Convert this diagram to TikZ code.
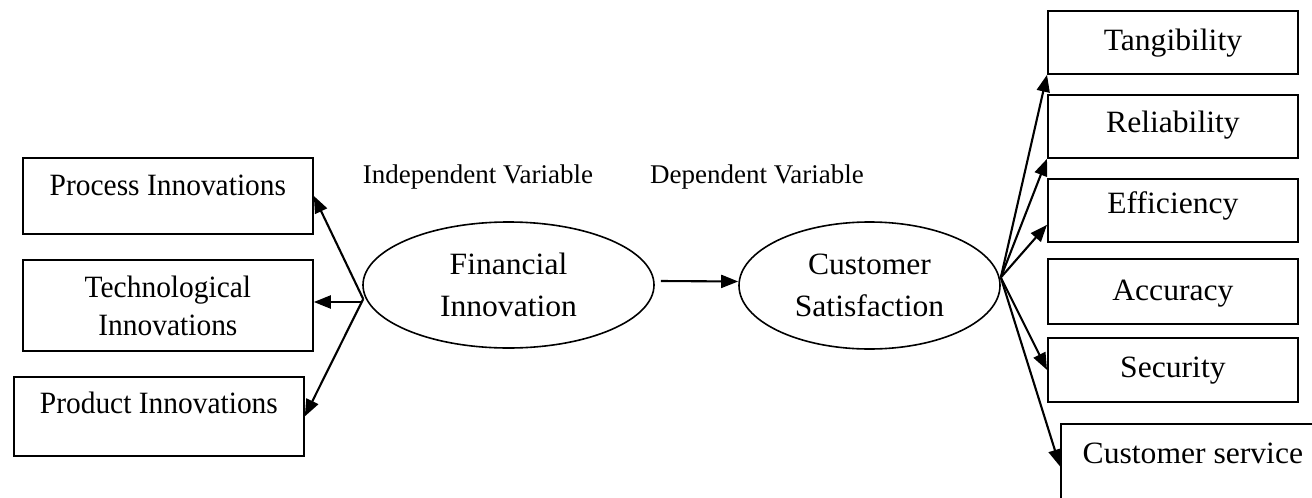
\documentclass[tikz,border=0pt]{standalone}
\usepackage{fontspec}
\setmainfont{Liberation Serif}
\newfontfamily\leftfont[FakeStretch=0.95]{Liberation Serif}
\newfontfamily\rightfont[FakeStretch=1.02]{Liberation Serif}
\usetikzlibrary{arrows.meta,shapes.geometric,calc}
\begin{document}
\begin{tikzpicture}[x=1pt,y=-1pt,
  box/.style={draw, line width=1.8pt, inner sep=0pt},
  lbox/.style={box, font=\leftfont\fontsize{31}{38}\selectfont},
  rbox/.style={box, minimum width=250pt, font=\rightfont\fontsize{31}{38}\selectfont},
  lab/.style={anchor=base, inner sep=0pt, font=\fontsize{27}{38}\selectfont},
  ell/.style={draw, ellipse, line width=1.6pt, inner sep=0pt, align=center, font=\rightfont\fontsize{31}{42}\selectfont},
  arr/.style={line width=2.1pt, -{Triangle[length=17pt,width=13pt]}}]
\clip (0,0) rectangle (1312,498);
\fill[white] (0,0) rectangle (1312,498);
% left boxes
\node[lbox, minimum width=290pt, text height=38pt, text depth=38pt, anchor=north west] (proc) at (22,157) {Process Innovations};
\node[lbox, minimum width=290pt, minimum height=91pt, align=center, anchor=north west] (tech) at (22,259) {Technological\\Innovations};
\node[lbox, minimum width=290pt, text height=37pt, text depth=42pt, anchor=north west] (prod) at (13,376) {Product Innovations};
% right boxes
\node[rbox, text height=40pt, text depth=23pt, anchor=north west] (tang) at (1047,10) {Tangibility};
\node[rbox, text height=38pt, text depth=25pt, anchor=north west] (rel) at (1047,94) {Reliability};
\node[rbox, text height=35pt, text depth=28pt, anchor=north west] (eff) at (1047,178) {Efficiency};
\node[rbox, text height=42pt, text depth=23pt, anchor=north west] (acc) at (1047,258) {Accuracy};
\node[rbox, text height=40pt, text depth=24pt, anchor=north west] (sec) at (1047,337) {Security};
\node[rbox, minimum width=264pt, text height=40pt, text depth=45pt, anchor=north west] (cs) at (1060,423) {Customer service};
% ellipses
\node[ell, minimum width=291pt, minimum height=126pt] (fi) at (508.5,285) {Financial\\Innovation};
\node[ell, minimum width=261pt, minimum height=127pt] (cust) at (869.5,285.5) {Customer\\Satisfaction};
% labels
\node[lab] (iv) at (478,183) {Independent Variable};
\node[lab] (dv) at (757,183) {Dependent Variable};
% connectors
\coordinate (fo) at ($(fi.west)+(1,14)$);
\draw[arr] (fo) -- (proc.east);
\draw[arr] ($(fi.west)+(-1,17)$) -- (tech.east |- {$(fi.west)+(0,17)$});
\draw[arr] (fo) -- (prod.east);
\draw[arr] ($(fi.east)+(6,-4)$) -- ($(cust.west)+(0,-4)$);
\coordinate (co) at ($(cust.east)+(0,-8)$);
\draw[arr] (co) -- (tang.south west);
\draw[arr] (co) -- (rel.south west);
\draw[arr] (co) -- ($(eff.south west)+(0,-18)$);
\draw[arr] (co) -- (sec.west);
\draw[arr] (co) -- (cs.west);
\end{tikzpicture}
\end{document}
